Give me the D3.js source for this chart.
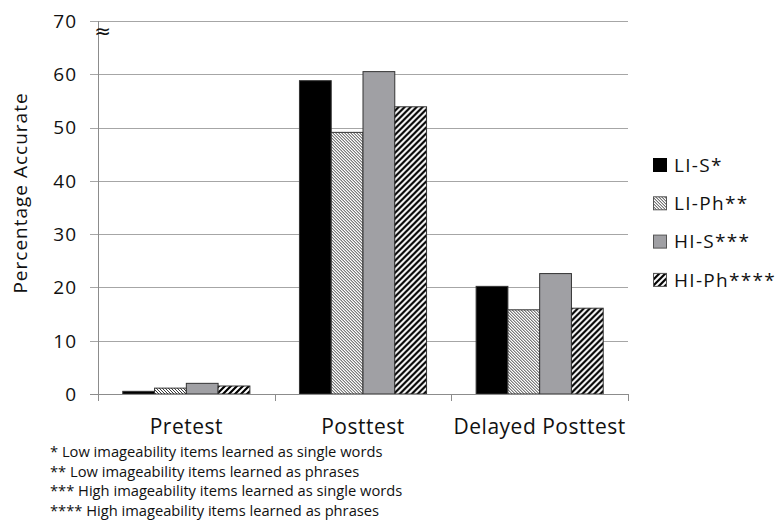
<!DOCTYPE html>
<html lang="en">
<head>
  <meta charset="UTF-8">
  <style>
body {
    margin: 0;
    background: #fff;
    font-family: 'Open Sans', Arial, sans-serif;
}
.grid line {
    stroke: #a6a6a6;
    stroke-width: 1px;
}
.tick-label {
    fill: #111;
    font-size: 19px;
    letter-spacing: 1px;
}
.cat-label {
    fill: #111;
    font-size: 21px;
    letter-spacing: 0.5px;
}
.legend-label {
    fill: #111;
    font-size: 19px;
    letter-spacing: 1.3px;
}
.footnote {
    fill: #111;
    font-size: 14.7px;
}
  </style>
  <title>Percentage Accurate</title>
</head>
<body>
<div id="wrapper"></div>
<script src="https://cdnjs.cloudflare.com/ajax/libs/d3/7.8.5/d3.min.js"></script>
<script>
  // DATA
  const categories = ['Pretest', 'Posttest', 'Delayed Posttest']
  const seriesNames = ['LI-S*', 'LI-Ph**', 'HI-S***', 'HI-Ph****']
  const liS  = [0.5, 58.8, 20.2]
  const liPh = [1.1, 49.1, 15.8]
  const hiS  = [2.0, 60.5, 22.6]
  const hiPh = [1.5, 53.9, 16.1]
  const yTicks = [0, 10, 20, 30, 40, 50, 60, 70]
  const footnotes = [
    '* Low imageability items learned as single words',
    '** Low imageability items learned as phrases',
    '*** High imageability items learned as single words',
    '**** High imageability items learned as phrases',
  ]

  const seriesValues = [liS, liPh, hiS, hiPh]
  const fills = ['#000', 'url(#hatchFine)', '#a0a0a4', 'url(#hatchWide)']

  const dimensions = {
    width: 782,
    height: 520,
    margin: { top: 21, right: 154, bottom: 126, left: 98 },
  }
  dimensions.boundedWidth = dimensions.width - dimensions.margin.left - dimensions.margin.right
  dimensions.boundedHeight = dimensions.height - dimensions.margin.top - dimensions.margin.bottom

  const svg = d3.select('#wrapper')
    .append('svg')
    .attr('width', dimensions.width)
    .attr('height', dimensions.height)

  // patterns
  const defs = svg.append('defs')
  defs.append('pattern')
      .attr('id', 'hatchFine')
      .attr('patternUnits', 'userSpaceOnUse')
      .attr('width', 3).attr('height', 3)
    .call(p => {
      p.append('rect').attr('width', 3).attr('height', 3).attr('fill', '#fff')
      p.append('path')
        .attr('d', 'M-1,-1 L4,4 M-1,2 L1,4 M2,-1 L4,1')
        .attr('stroke', '#222').attr('stroke-width', 0.9)
    })
  defs.append('pattern')
      .attr('id', 'hatchWide')
      .attr('patternUnits', 'userSpaceOnUse')
      .attr('width', 6).attr('height', 6)
    .call(p => {
      p.append('rect').attr('width', 6).attr('height', 6).attr('fill', '#fff')
      p.append('path')
        .attr('d', 'M-1,7 L7,-1 M-4,4 L4,-4 M2,10 L10,2')
        .attr('stroke', '#000').attr('stroke-width', 2.2)
    })

  const bounds = svg.append('g')
    .attr('transform', `translate(${dimensions.margin.left},${dimensions.margin.top})`)

  // SCALES
  const yScale = d3.scaleLinear()
    .domain([0, 70])
    .range([dimensions.boundedHeight, 0])

  const xScale = d3.scaleBand()
    .domain(categories)
    .range([0, dimensions.boundedWidth])

  const xInner = d3.scaleBand()
    .domain(d3.range(seriesNames.length))
    .range([0, xScale.bandwidth()])
    .paddingInner(0)
    .paddingOuter(0.78)

  // gridlines + y ticks
  const grid = bounds.append('g').attr('class', 'grid')
  grid.selectAll('line')
    .data(yTicks.filter(d => d > 0))
    .join('line')
      .attr('x1', -8)
      .attr('x2', dimensions.boundedWidth)
      .attr('y1', d => Math.round(yScale(d)) + 0.5)
      .attr('y2', d => Math.round(yScale(d)) + 0.5)

  bounds.append('g')
    .selectAll('text')
    .data(yTicks)
    .join('text')
      .attr('class', 'tick-label')
      .attr('x', -21)
      .attr('y', d => yScale(d))
      .attr('dy', '0.36em')
      .attr('text-anchor', 'end')
      .text(d => d)

  // BARS
  const groups = bounds.append('g')
    .selectAll('g')
    .data(categories)
    .join('g')
      .attr('transform', d => `translate(${xScale(d)},0)`)

  groups.selectAll('rect')
    .data((d, i) => seriesValues.map((vals, s) => ({ s, v: vals[i] })))
    .join('rect')
      .attr('x', d => xInner(d.s))
      .attr('width', xInner.bandwidth())
      .attr('y', d => yScale(d.v))
      .attr('height', d => yScale(0) - yScale(d.v))
      .attr('fill', d => fills[d.s])
      .attr('stroke', '#333')
      .attr('stroke-width', 1)

  // axes lines
  bounds.append('line')
    .attr('x1', 0.5).attr('x2', 0.5)
    .attr('y1', 0).attr('y2', dimensions.boundedHeight)
    .attr('stroke', '#8c8c8c')
  bounds.append('line')
    .attr('x1', -8).attr('x2', dimensions.boundedWidth)
    .attr('y1', dimensions.boundedHeight + 0.5).attr('y2', dimensions.boundedHeight + 0.5)
    .attr('stroke', '#8c8c8c')

  // category ticks
  const catTicks = categories.map(c => xScale(c)).concat([dimensions.boundedWidth])
  bounds.append('g')
    .selectAll('line')
    .data(catTicks)
    .join('line')
      .attr('x1', d => Math.round(d) + 0.5)
      .attr('x2', d => Math.round(d) + 0.5)
      .attr('y1', dimensions.boundedHeight)
      .attr('y2', dimensions.boundedHeight + 7)
      .attr('stroke', '#8c8c8c')

  bounds.append('g')
    .selectAll('text')
    .data(categories)
    .join('text')
      .attr('class', 'cat-label')
      .attr('x', d => xScale(d) + xScale.bandwidth() / 2)
      .attr('y', dimensions.boundedHeight + 40)
      .attr('text-anchor', 'middle')
      .text(d => d)

  // axis break sign
  bounds.append('text')
    .attr('x', 4.5)
    .attr('y', 17)
    .attr('text-anchor', 'middle')
    .attr('font-size', 20)
    .attr('font-family', 'DejaVu Sans')
    .attr('fill', '#111')
    .text('≈')

  // y title
  svg.append('text')
    .attr('transform', 'translate(27,193) rotate(-90)')
    .attr('text-anchor', 'middle')
    .attr('font-size', 19)
    .attr('letter-spacing', '1px')
    .attr('fill', '#111')
    .text('Percentage Accurate')

  // LEGEND
  const legend = svg.append('g')
    .selectAll('g')
    .data(seriesNames)
    .join('g')
      .attr('transform', (d, i) => `translate(653,${165 + i * 38.3})`)

  legend.append('rect')
    .attr('x', 0.5)
    .attr('y', -6.5)
    .attr('width', 13)
    .attr('height', 13)
    .attr('fill', (d, i) => fills[i])
    .attr('stroke', (d, i) => i === 0 ? '#000' : '#555')

  legend.append('text')
    .attr('class', 'legend-label')
    .attr('x', 21)
    .attr('dy', '0.36em')
    .text(d => d)

  // FOOTNOTES
  svg.append('g')
    .selectAll('text')
    .data(footnotes)
    .join('text')
      .attr('class', 'footnote')
      .attr('x', 50)
      .attr('y', (d, i) => 457 + i * 19.6)
      .text(d => d)
</script>
</body>
</html>
